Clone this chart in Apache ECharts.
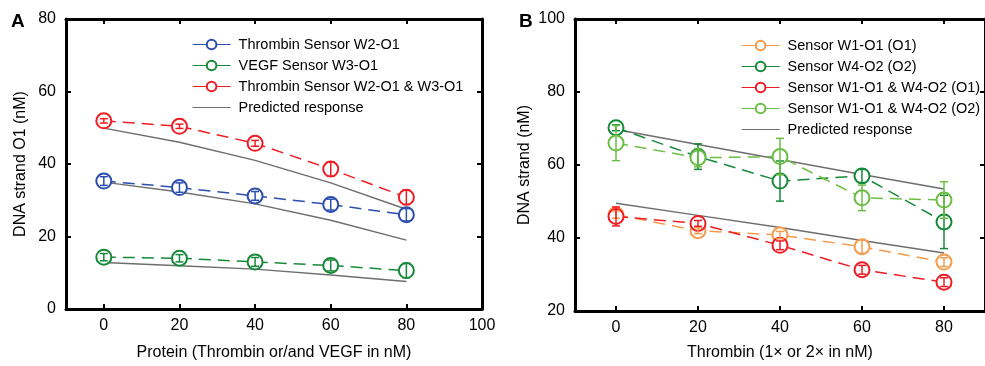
<!DOCTYPE html>
<html>
<head>
<meta charset="utf-8">
<script src="https://cdn.jsdelivr.net/npm/echarts@6/dist/echarts.min.js"></script>
<style>
html,body{margin:0;padding:0;background:#fff;}
#c{width:985px;height:366px;}
</style>
</head>
<body>
<div id="c"></div>
<script>
// ---------- Data: Panel A ----------
var xA = [0, 20, 40, 60, 80];
var aThrombin = [35.3, 33.5, 31.2, 28.8, 26.0];
var aThrombinErr = [1.2, 1.3, 1.2, 1.5, 1.7];
var aVEGF = [14.3, 14.0, 13.0, 12.0, 10.6];
var aVEGFErr = [1.0, 1.0, 1.2, 1.5, 2.0];
var aBoth = [51.9, 50.4, 45.7, 38.6, 30.8];
var aBothErr = [0.6, 0.6, 0.8, 2.0, 2.0];
var aPredTop = [49.9, 46.0, 41.0, 34.8, 27.5];
var aPredMid = [35.0, 32.3, 29.0, 24.5, 19.0];
var aPredBot = [12.8, 11.9, 11.0, 9.4, 7.6];
var xTicksA = [0, 20, 40, 60, 80, 100];
var yTicksA = [0, 20, 40, 60, 80];

// ---------- Data: Panel B ----------
var xB = [0, 20, 40, 60, 80];
var bW1 = [46.4, 42.0, 40.8, 37.6, 33.4];
var bW1Err = [1.0, 0.8, 1.0, 1.8, 1.2];
var bW4 = [70.2, 62.3, 55.6, 57.0, 44.4];
var bW4Err = [0.8, 3.5, 5.5, 1.8, 7.3];
var bBothO1 = [45.9, 44.0, 38.0, 31.3, 27.9];
var bBothO1Err = [2.6, 0.8, 1.2, 1.2, 1.2];
var bBothO2 = [66.0, 62.0, 62.3, 51.0, 50.4];
var bBothO2Err = [4.8, 2.5, 5.0, 3.5, 5.0];
var bPredTop = [69.7, 65.6, 61.5, 57.4, 53.4];
var bPredBot = [49.5, 46.2, 42.9, 39.3, 35.9];
var xTicksB = [0, 20, 40, 60, 80];
var yTicksB = [20, 40, 60, 80, 100];

// ---------- Names ----------
var namesA = ['Thrombin Sensor W2-O1', 'VEGF Sensor W3-O1', 'Thrombin Sensor W2-O1 & W3-O1', 'Predicted response'];
var namesB = ['Sensor W1-O1 (O1)', 'Sensor W4-O2 (O2)', 'Sensor W1-O1 & W4-O2 (O1)', 'Sensor W1-O1 & W4-O2 (O2)', 'Predicted response'];

var FONT = '"Liberation Sans", Arial, Helvetica, sans-serif';
var C = {
  blue: '#2C4EAE', green: '#17893A', red: '#EE1D24',
  orange: '#F79A4C', lgreen: '#6BBE45', gray: '#6E6E6E'
};

function pairs(xs, ys) { return xs.map(function (x, i) { return [x, ys[i]]; }); }

function dataSeries(name, xs, ys, color, xi, yi) {
  return {
    type: 'line', name: name, xAxisIndex: xi, yAxisIndex: yi,
    data: pairs(xs, ys),
    symbol: 'emptyCircle', symbolSize: 15,
    itemStyle: { color: color, borderColor: color, borderWidth: 1.5 },
    lineStyle: { color: color, width: 1.5, type: [12, 7] },
    z: 3, animation: false
  };
}

function errSeries(name, xs, ys, es, color, xi, yi) {
  return {
    type: 'custom', name: name + ' err', xAxisIndex: xi, yAxisIndex: yi,
    data: xs.map(function (x, i) { return [x, ys[i], es[i]]; }),
    renderItem: function (params, api) {
      var x = api.value(0), y = api.value(1), e = api.value(2);
      var top = api.coord([x, y + e]);
      var bot = api.coord([x, y - e]);
      var w = 4;
      var st = { stroke: color, lineWidth: 1.5 };
      return {
        type: 'group',
        children: [
          { type: 'line', shape: { x1: top[0], y1: top[1], x2: bot[0], y2: bot[1] }, style: st },
          { type: 'line', shape: { x1: top[0] - w, y1: top[1], x2: top[0] + w, y2: top[1] }, style: st },
          { type: 'line', shape: { x1: bot[0] - w, y1: bot[1], x2: bot[0] + w, y2: bot[1] }, style: st }
        ]
      };
    },
    z: 4, animation: false, silent: true
  };
}

function predSeries(xs, ys, xi, yi) {
  return {
    type: 'line', name: 'Predicted response', xAxisIndex: xi, yAxisIndex: yi,
    data: pairs(xs, ys), symbol: 'none',
    lineStyle: { color: C.gray, width: 1.5, type: 'solid' },
    itemStyle: { color: C.gray },
    z: 2, animation: false
  };
}

function mainX(gi, min, max, ticks, name, gap) {
  return {
    type: 'value', gridIndex: gi, min: min, max: max, position: 'bottom',
    name: name, nameLocation: 'middle', nameGap: gap,
    nameTextStyle: { fontFamily: FONT, fontSize: 16, color: '#000' },
    axisLine: { show: true, onZero: false, lineStyle: { color: '#000', width: 3 } },
    axisTick: { show: true, inside: true, length: 5, customValues: ticks, lineStyle: { color: '#000', width: 2 } },
    axisLabel: { show: true, customValues: ticks, margin: 9, fontFamily: FONT, fontSize: 16, color: '#000' },
    splitLine: { show: false }
  };
}
function topX(gi, min, max, ticks) {
  return {
    type: 'value', gridIndex: gi, min: min, max: max, position: 'top',
    axisLine: { show: true, onZero: false, lineStyle: { color: '#000', width: 3 } },
    axisTick: { show: true, inside: true, length: 5, customValues: ticks, lineStyle: { color: '#000', width: 2 } },
    axisLabel: { show: false }, splitLine: { show: false }
  };
}
function mainY(gi, min, max, ticks, name, gap) {
  return {
    type: 'value', gridIndex: gi, min: min, max: max, position: 'left',
    name: name, nameLocation: 'middle', nameGap: gap, nameRotate: 90,
    nameTextStyle: { fontFamily: FONT, fontSize: 16, color: '#000' },
    axisLine: { show: true, onZero: false, lineStyle: { color: '#000', width: 3 } },
    axisTick: { show: true, inside: true, length: 5, customValues: ticks, lineStyle: { color: '#000', width: 2 } },
    axisLabel: { show: true, customValues: ticks, margin: 10, fontFamily: FONT, fontSize: 16, color: '#000' },
    splitLine: { show: false }
  };
}
function rightY(gi, min, max, ticks) {
  return {
    type: 'value', gridIndex: gi, min: min, max: max, position: 'right',
    axisLine: { show: true, onZero: false, lineStyle: { color: '#000', width: 3 } },
    axisTick: { show: true, inside: true, length: 5, customValues: ticks, lineStyle: { color: '#000', width: 2 } },
    axisLabel: { show: false }, splitLine: { show: false }
  };
}

var series = [
  // Panel A
  predSeries(xA, aPredTop, 0, 0),
  predSeries(xA, aPredMid, 0, 0),
  predSeries(xA, aPredBot, 0, 0),
  dataSeries(namesA[0], xA, aThrombin, C.blue, 0, 0),
  dataSeries(namesA[1], xA, aVEGF, C.green, 0, 0),
  dataSeries(namesA[2], xA, aBoth, C.red, 0, 0),
  errSeries(namesA[0], xA, aThrombin, aThrombinErr, C.blue, 0, 0),
  errSeries(namesA[1], xA, aVEGF, aVEGFErr, C.green, 0, 0),
  errSeries(namesA[2], xA, aBoth, aBothErr, C.red, 0, 0),
  // Panel B
  predSeries(xB, bPredTop, 2, 2),
  predSeries(xB, bPredBot, 2, 2),
  dataSeries(namesB[0], xB, bW1, C.orange, 2, 2),
  dataSeries(namesB[1], xB, bW4, C.green, 2, 2),
  dataSeries(namesB[2], xB, bBothO1, C.red, 2, 2),
  dataSeries(namesB[3], xB, bBothO2, C.lgreen, 2, 2),
  errSeries(namesB[0], xB, bW1, bW1Err, C.orange, 2, 2),
  errSeries(namesB[1], xB, bW4, bW4Err, C.green, 2, 2),
  errSeries(namesB[2], xB, bBothO1, bBothO1Err, C.red, 2, 2),
  errSeries(namesB[3], xB, bBothO2, bBothO2Err, C.lgreen, 2, 2)
];

function legendCfg(names, left, top) {
  return {
    data: names.map(function (n) {
      return n === 'Predicted response'
        ? { name: n, itemStyle: { opacity: 0 }, lineStyle: { opacity: 1 } }
        : { name: n };
    }),
    left: left, top: top, orient: 'vertical',
    itemWidth: 38, itemHeight: 12, itemGap: 6,
    selectedMode: false,
    lineStyle: { type: 'solid', width: 1.2 },
    textStyle: { fontFamily: FONT, fontSize: 14.5, color: '#000', padding: [0, 0, 0, 3] }
  };
}

var option = {
  backgroundColor: '#fff',
  animation: false,
  grid: [
    { left: 66, top: 19, width: 416, height: 291 },
    { left: 575, top: 19, width: 414, height: 293 }
  ],
  xAxis: [
    mainX(0, -10, 100, xTicksA, 'Protein (Thrombin or/and VEGF in nM)', 36),
    topX(0, -10, 100, xTicksA),
    mainX(1, -10, 90, xTicksB, 'Thrombin (1\u00d7 or 2\u00d7 in nM)', 34),
    topX(1, -10, 90, xTicksB)
  ],
  yAxis: [
    mainY(0, 0, 80, yTicksA, 'DNA strand O1 (nM)', 37),
    rightY(0, 0, 80, yTicksA),
    mainY(1, 20, 100, yTicksB, 'DNA strand (nM)', 42),
    rightY(1, 20, 100, yTicksB)
  ],
  legend: [
    legendCfg(namesA, 187, 32),
    legendCfg(namesB, 736, 33)
  ],
  graphic: [
    { type: 'text', left: 11, top: 12, style: { text: 'A', font: 'bold 19px ' + FONT, fill: '#000' } },
    { type: 'text', left: 519, top: 12, style: { text: 'B', font: 'bold 19px ' + FONT, fill: '#000' } }
  ],
  series: series
};

var chart = echarts.init(document.getElementById('c'), null, { renderer: 'canvas' });
chart.setOption(option);
</script>
</body>
</html>
